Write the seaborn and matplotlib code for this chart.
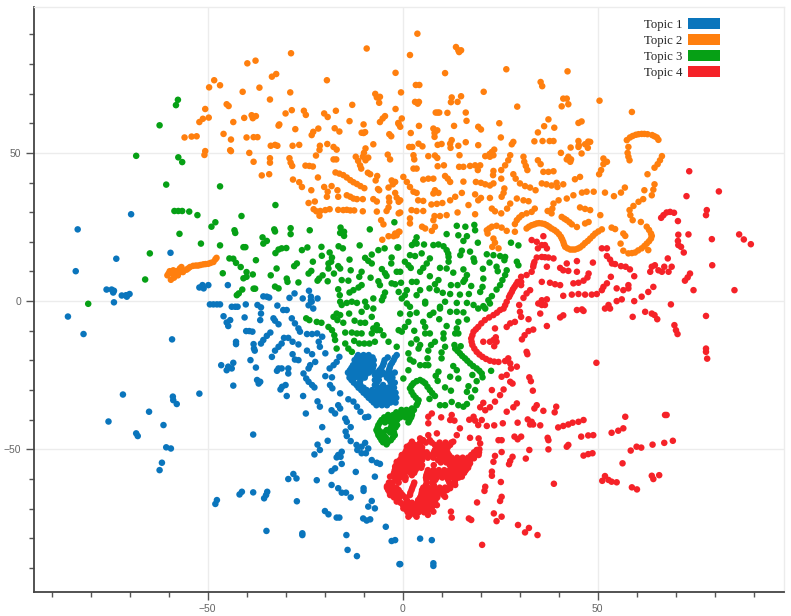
import pandas as pd
import matplotlib
matplotlib.use("Agg")
import matplotlib.pyplot as plt
from matplotlib.patches import Patch
from matplotlib.ticker import MultipleLocator
import seaborn as sns

topic_names = ["Topic 1", "Topic 2", "Topic 3", "Topic 4"]
topic_colors = ["#0A75BC", "#FF7F0E", "#06A015", "#F52228"]

# values
topic1_points = [
    (-83.3,24.2),(-69.6,29.3),(-83.8,10.1),(-73.4,14.3),(-59.5,16.3),(-75.9,3.9),(-74.6,3.9),(-74,3.5),(-74.2,2.9),
    (-72,1.9),(-70.9,2),(-70,2.4),(-70.7,1.5),(-74,-0.4),(-52.1,4.6),(-51.3,5.4),(-51,4.3),(-49.8,5.4),(-44.8,5.4),
    (-35.7,1.6),(-34.8,1.5),(-34.2,1.2),(-29,1.1),(-27.7,2.6),(-24,3.5),(-25.6,0.9),(-23.5,1.5),(-23.5,0.3),(-21.8,0.9),
    (-49.4,-1.1),(-48.5,-1.1),(-47.6,-1.1),(-46.8,-1.1),(-43.8,-1.9),(-42.9,-1.9),(-42.3,-1.9),(-40.2,-1.1),
    (-37.2,-1.3),(-36.3,-2.1),(-36.3,-4.2),(-36.5,-6.4),(-32.1,-1.5),(-30.6,-3),(-29.7,-3),(-24.1,-1.4),(-23.3,-0.2),(-22.9,-2.5),
    (-85.8,-5.2),(-81.8,-11.1),(-59.1,-12.9),(-45.9,-5.1),(-44.2,-6.4),(-45.1,-7.2),(-44.7,-8.4),(-40.5,-5.5),
    (-33.1,-5.8),(-32.7,-6.6),(-31.8,-7.8),(-28.4,-5.8),(-27.6,-7.5),(-26.7,-9.2),(-26.3,-10.3),(-40.1,-10.1),(-39.3,-10.1),(-38.5,-10.3),
    (-33.9,-10.6),(-34.8,-11.7),(-35.7,-13.1),(-36.3,-14.3),(-42.7,-13.7),(-42.7,-14.5),(-38.2,-14.5),(-38.1,-16),(-37.9,-16.7),
    (-30.4,-12.4),(-29.3,-12.4),(-31,-14.3),(-31.8,-15.4),(-28.2,-13.7),(-26.7,-14.6),(-24.5,-11.1),(-23.2,-11.1),(-21.9,-10.9),
    (-20.6,-12),(-21.5,-13.7),(-21.2,-15.4),(-32.7,-16.7),(-33.5,-18.8),(-28.2,-17.9),(-24.5,-16.7),(-23.2,-17.9),(-19.8,-17.6),
    (-27.6,-19.7),(-26.7,-19.9),(-39,-19.9),(-22.4,-20.5),(-23.7,-21.6),(-24.1,-22.7),(-46.5,-21.6),(-43.4,-20.8),(-44.7,-22.1),
    (-45.1,-23.3),(-43.8,-22.7),(-37.6,-22.4),(-31.8,-22.7),(-31,-22.7),(-32.2,-23.5),(-29.3,-22.7),(-29.3,-24.4),
    (-16.2,-18.8),(-16.9,-20.5),(-17.7,-21.6),(-18.7,-22.7),(-19.8,-25.3),(-25.4,-24.4),(-24.7,-26.1),(-24.1,-27.2),(-23.2,-28.3),(-22.6,-29.1),
    (-37.3,-26.6),(-36.5,-27.2),(-36.9,-27.8),(-43.4,-28.5),(-30.9,-28.9),(-30,-28.3),(-31.3,-29.8),(-29.7,-32),
    (-18.1,-25.7),(-18.6,-28.3),(-18,-29.4),(-71.7,-31.5),(-52.1,-31.2),(-58.9,-32.2),(-58.8,-33.4),(-57.9,-34.7),(-25.5,-32),
    (-16,-31.1),(-13.9,-33.1),(-12.6,-33.9),(-11.7,-35.6),(-10.8,-37.3),(-9.6,-39.2),(-8.8,-39),(-21.8,-33.8),(-21.2,-35.6),(-65,-37.3),
    (-16.5,-35.1),(-18.2,-36.8),(-17.3,-37.9),(-16,-36.2),(-24.8,-37.9),(-75.4,-40.6),(-61.3,-41.8),(-14.7,-39.6),(-14.3,-40.7),
    (-20.6,-42.5),(-13.3,-42.5),(-68.3,-44.6),(-67.9,-45.5),(-14.6,-44),(-14.3,-45.5),(-13.3,-47.2),(-38.3,-45),(-19.2,-47.1),(-21.8,-48.4),
    (-60.6,-49.3),(-59.4,-49.7),(-11.8,-48.5),(-11.6,-50.2),(-10.5,-49.1),(-9.6,-47.8),(-8.8,-49.7),(-9.4,-51.3),(-10.5,-51.3),
    (-21.2,-50.2),(-22.6,-51.7),(-15.6,-50.8),(-16.5,-51.9),(-16.9,-52.7),(-15.9,-52.5),(-61.7,-54.5),(-62.3,-57),(-7.9,-53.6),(-6.6,-54.5),(-5.8,-54.9),
    (-15.6,-54.9),(-17.3,-56.4),(-18.2,-57.3),(-12,-57.6),(-7.1,-59.2),(-28,-58.3),(-29.3,-60),(-27.2,-59.8),(-22,-60.4),(-18.2,-62),
    (-10,-63.1),(-10,-64),(-16.5,-63.1),(-15.6,-64.6),(-14.5,-64.6),(-13.3,-66.2),(-41.2,-64.3),(-41.8,-65.2),(-38.3,-64.5),
    (-34.7,-64.3),(-35,-65.4),(-35.5,-66.5),(-47.6,-67.1),(-48,-68.4),(-27.1,-67.5),(-7.9,-67.4),(-8.8,-69.3),(-7.1,-69.9),
    (-19.9,-70.8),(-19,-71.9),(-16.9,-73),(-16.2,-73),(-10.1,-73.3),(-9.2,-74),(-8.3,-73.6),(-4.3,-76.1),(-34.9,-77.5),(-25.7,-78.3),(-25.7,-78.9),
    (-14.4,-78.9),(-2.8,-80.9),(-1.9,-80.6),(-14.1,-83.9),(-11.7,-86),(-0.8,-88.7),(4.5,-80.1),(7.5,-80.6),(-0.6,-88.7),(7.9,-88.4),(7.9,-89.3),
]
# the dense patch, row by row: (y, xs)
topic1_blob = [
    (-18.2,[-11.4,-10,-8.7,-1.5]),
    (-19,[-11.7,-10.3,-9,-7.7,-3.8,-2]),
    (-19.9,[-12.3,-10.9,-9.5,-8.1,-7.4,-4.6,-2.3]),
    (-20.8,[-12,-10.6,-9.2,-7.8,-4.8,-2.7]),
    (-21.6,[-12.7,-11.3,-9.9,-8.5,-7.4,-5,-3.1]),
    (-22.5,[-13.1,-11.7,-10.3,-8.9,-7.6,-5.4,-3.3]),
    (-23.3,[-13.5,-12.1,-10.7,-9.3,-7.8,-5.9,-3.5]),
    (-24.1,[-14,-12.8,-11.4,-10,-8.6,-6.5,-5,-3.3,-2]),
    (-24.9,[-13.5,-12.1,-10.7,-9.5,-7.1,-5.7,-4.3,-3.1]),
    (-25.8,[-13.6,-12.3,-11,-9.7,-6.6,-4,-2.6]),
    (-26.6,[-13.1,-10.8,-7.1,-6.1,-3.3]),
    (-27.5,[-12.5,-11,-6.6,-3,-2]),
    (-28.3,[-11.8,-10.8,-7.1,-5,-2.7]),
    (-29.2,[-11.3,-10,-6.3,-5,-3.7,-2.2]),
    (-30,[-10.6,-9.2,-7.8,-6.4,-5,-3.6,-2.7]),
    (-30.9,[-10,-8.6,-7.2,-5.8,-4.4,-3,-1.8]),
    (-31.7,[-9.3,-7.9,-6.5,-5.1,-3.7,-2.3]),
    (-32.6,[-8.7,-7.3,-5.9,-4.5,-3,-1.6]),
    (-33.4,[-8,-6.6,-5.2,-3.8,-2.3]),
    (-34.2,[-7.4,-6,-4.6,-3.1,-1.8]),
    (-35.1,[-6.7,-5.3,-4]),
]

topic2_points = [
    (-9.2,85.2),(-28.6,83.6),(-39.8,80.2),(-37.7,81.1),(-1.8,77),(-33.5,75.7),(-32.4,76.6),(-19.4,74.5),(-48.3,74.5),(-49.6,72.1),(-46.8,72.8),
    (-41,70.6),(-36.7,72),(-28.8,70.4),(-34,68),(-7,69.9),(-6.6,68.7),(-5.8,68.9),(-6,66.9),(-45.1,66.4),(-44.6,65.8),(-50.6,64.8),(-12.9,66.2),
    (-28.4,64.4),(-30,63.3),(-25.3,64.2),(-24.8,62.8),(-20.1,63.3),(-19.2,62.1),(-17.1,64.2),(-1.8,64.8),(-49.7,61.9),(-51.2,61.5),(-52.1,60.4),
    (-43.4,60.4),(-40.6,61.8),(-38.7,62.7),(-37.6,62.4),(-38.4,61.7),(-13.6,60.7),(-5.8,60.4),(-5.1,61.6),(-4.5,62.4),(-31.6,59.6),(-31.8,59.2),
    (-10,59.6),(-1,59.7),(-27.5,58),(-21.6,58.2),(-22.9,57.1),(-23.3,56),(-17.4,58.3),(-16.2,57.2),(-10.5,56.8),(-10,56.7),(-9.6,57),(-45.9,56.4),
    (-55.9,55.2),(-54.1,55.5),(-52.8,55.6),(-44,54.5),(-40,55.2),(-38.2,55.3),(-37.2,55.3),(-3.4,56.3),(-2.9,55.6),(-33.8,52.4),(-32.7,52.7),(-32.1,52.4),
    (-28.2,52.4),(-26.5,52.7),(-19.3,53),(-21.2,52.4),(-21.3,51),(-17.7,52),(-16.9,51.1),(-7.5,52.9),(-9.5,51.5),(-9.9,50),(-10.2,48.7),(-9.5,47.5),(-8.8,48.4),
    (-44.2,50.9),(-44,50.6),(-50.6,50.6),(-50.8,49.3),(-39.3,50),(-22.2,49.1),(-3.8,49.4),(-3.2,47.8),(-17.7,47.8),(-17,47.8),(-12,48.7),(-11.4,47.3),(-10.9,45.8),(-10.6,44.7),
    (-29,48.2),(-28.7,46.7),(-28.3,45.6),(-34,48.2),(-34,46.7),(-38.2,47),(-24.9,45.7),(-23.9,45.6),(-23,45.4),
    (-17.2,43.4),(-16.2,43),(-15.2,42.5),(-14.3,41.7),(-13.4,40.8),(-12.6,40.1),(-11.7,39.5),(-10.8,38.8),(-9.8,38.1),(-8.9,43.3),(-8.3,42.8),(-6.5,42.2),(-6.9,40.7),
    (-36.1,42.4),(-34.2,42.8),(-21.7,41.7),(-28.1,41),(-26.5,40.1),(-25.8,38.5),(-2.8,40.7),(-1.9,40.2),(-3.6,38.3),(-2.5,39.4),(-6.3,37.8),(-6,37.4),(-20.1,38.5),(-18.2,38.8),
    (-23.4,37.4),(-16.7,37.4),(-19.2,36.9),(-19.4,35.2),(-14.3,35.7),(-13.4,35.2),(-12.6,34.6),(-11.7,34.4),(-16.5,35.2),(-10.2,34.4),(-7.5,34.4),(-6.6,33.6),(-1.9,36.5),
    (-3.5,34.9),(-3.4,33.5),(-24.1,33.1),(-22.5,33.6),(-22.8,31),(-22.1,30.3),(-21.1,30.4),(-19.8,30.7),(-18.7,31),(-21.3,28.8),(-16.5,30.8),(-15.2,30.7),(-14.3,30.8),(-13.4,30.6),(-12.4,30.6),
    (-10.2,30.3),(-6.6,30.2),(-4.1,30.4),(-3.6,31.6),(-1,33.5),(-1,29.6),(-5.5,27.3),(-4.9,25.9),(-5.2,20.7),(-3.6,21.9),(-2.3,21.9),(-1.5,22.2),(-0.8,23.4),
    # tail on the left
    (-47.7,14.6),(-48,14.1),(-48.5,13.2),(-49.2,12.9),(-49.8,12.6),(-50.5,12.5),(-51.1,12.4),(-51.8,12.2),(-52.4,12),(-53,12),(-53.7,11.9),(-54.5,11.5),(-55,11),(-55.4,10.6),
    (-56.3,9.8),(-57.1,11),(-56.7,11.5),(-58,10.1),(-57.6,8.7),(-58.8,10.4),(-59.7,10.1),(-60.3,8.7),(-59.4,7.2),(-58.4,8.7),(-59,9.3),(-57.1,9.8),(-58.6,7.9),(-60,9.3),(-57,10.3),
    # right half
    (3.8,90.2),(1.9,83),(13.7,85.7),(14.3,84.6),(15,84.6),(14.5,84),(26.6,78.2),(10.9,76.9),(42.3,77.5),(35.4,73.9),(35.8,72.5),(3.4,72.9),(4.3,72.9),(-0.4,70.4),(20.8,70.6),
    (15,69.1),(12.6,68.7),(14.1,67.2),(12.4,67.1),(41.2,68.3),(42.1,68.3),(42.5,66.4),(40.8,65.7),(50.5,67.6),(3.2,67.2),(3.9,66.6),(4.2,67.2),(29.4,65.6),(58.8,63.8),
    (8.5,63.6),(9,63.6),(9.4,63.6),(11.5,63.5),(16.2,63.6),(-0.2,61.6),(-1.1,60.1),(-0.6,58.8),(16.4,60.8),(37.4,61.3),(45.1,60.1),(45.9,60.6),(24.8,60),(4.2,59.1),(13.2,59.1),
    (36.3,59),(38.9,58.5),(19.4,58.8),(20.1,57.9),(7.9,58.2),(8.9,57.6),(8.2,56.7),(8.2,55.4),(34.7,56.9),(2.1,56.7),
    (57.5,54.3),(58.3,55.2),(59,55.7),(59.8,56.1),(60.5,56.3),(61.3,56.4),(62,56.4),(62.8,56.3),(64,56),(64.6,55.6),(65.2,55.2),(65.6,54.4),
    (25.2,55.2),(33.8,53.9),(35.9,54),(37.7,54),(38.7,54),(28.4,53.7),(28,52.9),(12.6,54.3),(12.2,53.1),(16.2,53.6),(4.1,53.1),(5.1,52.2),(45.1,54),(45.2,52.6),(45.1,52),
    (47.6,53.8),(46.8,52.9),(47.5,51.7),(48.1,53.7),(1.7,52),(2.5,52),(9,52.7),(10,53),(12.3,51.7),(14.3,52.4),(19.4,52.6),(43.1,51.8),(57.9,52),(57.7,50),(57.9,48.7),(58.2,47.5),
    (23.5,51.1),(22.9,50.3),(22.3,49.6),(21.2,48.9),(23.3,49.2),(22.4,48.7),(45.9,49.8),(40.6,50),(42.5,48.7),(42.1,47.8),(43,47),(43.2,47.8),(6.6,48.9),(8.3,49.1),(8.9,48.3),(14.6,49.2),
    (27.6,49.2),(27.1,47.5),(26.3,45.8),(25.3,44.2),(31,48.7),(31.2,47),(31.6,45.6),(32,44.2),(34.7,47.5),(35.4,46.2),(2.8,49.2),(3,47.8),(51.5,48.1),(52.4,47),(51.5,46.2),(50.4,42.8),(50.9,44.2),
    (66.5,48.9),(66,47.5),(65.4,46.2),(64.6,45),(2.8,44.7),(3.6,44.7),(9,45.5),(10.6,45.8),(14.5,45.3),(15.6,45.3),(17.3,45.6),(18.6,45.8),(19.9,45.8),(19.3,44.2),(23.3,43.9),(23.2,42.5),
    (36.1,43.6),(37.4,43.6),(38.7,43.8),(62.8,42.8),(0.2,41.9),(1.1,40.2),(1.9,38.5),(2.8,36.9),(3.6,36.5),(5.3,41),(6.6,41.3),(7.9,41.3),(10.9,42.2),(11.6,41.3),(12.2,40.2),(15.6,40.3),
    (18.8,40.2),(20.1,39.9),(21.2,39.4),(22.4,39),(23.3,39.7),(25.3,41.3),(28.4,42.8),(29,41.3),(30.1,39.7),(31.4,38.8),(32.7,38.3),(34.1,37.4),(35.7,39.7),(36.9,39.4),(38.2,39),(39.5,39.9),(39.7,38.5),(41.2,39.4),
    (44.2,41.1),(45.5,41.9),(64.6,39.4),(64.3,37.6),(63.9,35.7),(62,37.4),(57,38.3),(56,36.6),(54.2,35.4),(51.9,36.6),(46,36.6),(47.2,36.9),(49,36.9),(43.8,35.7),(42.1,34.6),(40,34),(38.7,32.9),(38.4,31.2),(38.2,29.6),(37.2,30.4),
    (8.3,37.4),(7.9,36.3),(9.2,36.5),(15.2,36.5),(13.5,35.2),(12.2,34),(18.6,36),(20.1,34.8),(19.4,34),(22.4,34.8),(26.1,38),(25.9,36.5),(25.4,35.2),(29.3,34.6),(31,34),(32.3,33.7),(-1.5,34.9),(-0.6,34),
    (4,34),(5.3,33.8),(7.4,32.6),(8.8,32.8),(10.2,33.1),(16.9,32.4),(27.6,32.9),(26.8,31.2),(22.9,31.2),(23.7,30.3),(25.3,29.6),(18.6,29.3),(14.1,29.9),(-0.6,29.9),(2.3,30.7),(3.6,30.4),(5.3,30.4),
    (33.9,31.2),(33.1,30.1),(31.8,29.6),(30.6,29),(29.9,28.2),(29.3,27.3),(28.8,26),(45.5,31.6),(46.8,31.1),(48.1,30.7),(50.7,29),(61.7,34.4),(60.5,33.5),(59.2,32.1),(58.2,30.7),(58.4,29),(59,27.3),(61.1,26.7),
    (62.6,25.1),(63.2,24),(63.7,22.8),(63.9,22),(63.7,21.1),(63.2,20.2),(62.6,19.4),(62,18.6),(61.3,17.8),(60.4,17.1),(59.6,16.4),(58.8,16.2),(57.9,16.1),(56.6,17),(55.9,19.4),(63,17.2),(56.6,22.8),(57.1,22),(53.6,24.8),(54.5,24.3),
    # long curve
    (31.8,24.5),(32.4,25.1),(33.1,25.6),(33.8,25.9),(34.4,26.2),(35,26.3),(35.7,26.2),(36.4,26),(37,25.6),(37.6,25.1),(38.2,24.5),(38.9,24),(39.5,23.4),(40.1,22.6),(40.6,21.7),(40.9,20.9),(41.2,20),(41.4,19.1),(41.7,18.3),
    (42.3,17.8),(43,17.4),(43.6,17.4),(44.2,17.4),(44.9,17.7),(45.5,18.1),(46.2,18.8),(46.8,19.6),(47.5,20.3),(48.1,21.1),(48.8,22),(49.4,22.8),(50.2,23.5),(51.1,24.2),
    (40.8,28.4),(41.5,27.8),(42.1,27.3),(42.8,26.6),(43.4,25.9),(44.7,25),(46.8,26.2),(47.7,26.7),(8.2,28.7),(7.9,27.3),(9.6,28.7),(11.3,29),(8.3,25.1),(7.5,23.7),(5.8,24.5),(5,25.1),(1.9,27.9),(1.9,26.2),(-1.9,22.8),(-1,23.4),
    (21.6,23.9),(22.2,24.5),(22.9,25.1),(24.1,25.4),(25.4,24.8),(26.7,23.7),(28.8,23.4),(21.8,22.8),(23.3,21.1),(23.7,19.7),(24.6,17.8),(23,18.3),
]

topic3_points = [
    (-57.6,67.9),(-58.1,66.1),(-62.3,59.3),(-68.3,49),(-57.5,48.5),(-56.5,46.9),(-60.6,39.3),(-46.8,38.7),(-32.6,32.4),(-58.5,30.4),(-57.5,30.4),(-56.5,30.4),(-54.7,30.2),(-52.6,29),(-41.3,28.7),
    (-48,26.6),(-49,25.1),(-43.1,23.9),(-42.9,23),(-57.2,22.7),(-32.9,24.2),(-32.7,23.5),(-28.7,24.6),(-28.7,22.6),(-23.8,23.9),(-15.9,24.8),(-16,23),(-15,23.4),(-15,22),(-8.4,24.2),(-2.1,26.6),
    (-35.9,21.5),(-34.8,20.3),(-35.7,19.4),(-51.7,19.4),(-46.8,18.8),(-40.8,18.2),(-40.3,18.2),(-31,17.8),(-29.8,17.9),(-31.8,17.4),(-32.6,16.2),(-24.4,18.1),(-25.8,17.2),(-20.8,18.3),(-16.4,18.5),(-15.3,17.8),(-11,18.8),
    (-4.6,17.8),(-6.2,17.2),(-1.3,18.1),(-64.8,16.1),(-44.4,14.4),(-43.4,14.3),(-42.7,12.9),(-37.6,13.8),(-20.7,15.3),(-18.7,16.4),(-18.1,14.7),(-13.6,14),(-7.9,15.7),(-9.6,14.6),(-8.8,13.6),(-7.9,12.7),
    (-2.8,14.7),(-2.9,12.7),(-23,13.3),(-27.1,12.7),(-27.8,11.8),(-19,12.7),(-18.3,13.3),(-19,11),(-16.5,11.8),(-16,11),(-41.5,11.5),(-40,9.8),(-32.3,11),(-13.3,10.4),(-5.3,10.8),(-4.5,9.4),(-4.1,8.5),
    (-24.1,9.3),(-23.4,10.2),(-46.1,9.4),(-38.4,9),(-33.8,8.7),(-17.6,9.3),(-1.5,9.9),(-20.5,8.7),(-21.4,7.6),(-21.8,6.9),(-40.8,7.7),(-40,8.2),(-29.7,7.6),(-29.5,6.5),(-10.5,9.9),(-11.1,8.2),(-8.2,7.9),(-66,7.3),
    (-19.2,6.7),(-15.6,7.1),(-13.9,6.9),(-6.2,6.7),(-5.8,5.4),(-26.7,6.3),(-2.8,6),(-1.9,5.7),(-32.7,4.9),(-31.8,4.3),(-10.5,5.4),(-11.3,4.6),(-12.6,3.7),(-13.6,2.9),(-38.2,4.2),(-37.8,4.2),(-41.1,3.9),(-42,2.6),(-42.5,2),
    (-16.5,4),(-16.1,2),(-4.5,2.9),(-4.9,1.5),(-5.3,0.3),(-1,3.1),(-7.5,0.9),(-80.6,-0.9),(-16,-0.2),(-15.6,-1.3),(-14.3,-0.6),(-13,-0.2),(-11.7,-0.6),(-9.6,-0.2),
    (-24.7,-5.8),(-23.9,-6.4),(-16.9,-4.2),(-17.7,-5.3),(-16.7,-6.4),(-16,-4.7),(-15.2,-7.3),(-13.7,-4.2),(-12.3,-6.6),(-10.8,-7.3),(-9.6,-7.3),(-7.9,-5.3),(-9.2,-1.9),(-10.5,-3.6),(-7.5,-2.5),(-22,-7),(-20.8,-7.3),
    (-19,-8.7),(-18.1,-9.8),(-17.5,-11.5),(-14.7,-10.6),(-13,-10.6),(-11.7,-10.9),(-10.5,-10.9),(-6.6,-8.1),(-7.5,-9.2),(-7.9,-10.9),(-6.6,-9.8),(-5.8,-9.8),(-4.9,-11.5),(-3.6,-13.7),
    (-12.4,-13.4),(-11.1,-14.3),(-9.8,-14.3),(-8.5,-14.3),(-7.1,-13.7),(-17.3,-13.1),(-16.9,-16),(-14.7,-14.3),(-13.9,-16),(-13,-17.1),(-1,-9.8),(-1.5,-15.4),
    # right half
    (13.9,25.4),(16.1,25.1),(18.4,25.7),(18.6,23.9),(11.3,22.6),(14.3,22.2),(16.5,21.9),(15.6,20.3),(19.3,19.7),(3.6,21.5),(3.2,20),(2.4,18.9),(3.6,19.4),(5.5,19.1),(-1.1,18.1),(27.8,19.7),(29.7,18.8),
    (7.9,18.9),(9.2,19.1),(10.5,18.5),(11.3,17.2),(11.7,16),(11.8,14.9),(11.8,13.3),(15.2,17),(14.8,15.5),(17.3,16.7),(18.2,14.4),(18.4,13.3),(21.6,15.8),(23.3,15.5),(25,15.2),(26.3,14.9),(26.1,13.8),(1.9,15.5),(3.2,15.2),(4.9,16.1),
    (29.3,13.3),(29.7,12.1),(7,14.4),(6.2,12.7),(5.3,11.2),(4.5,9.9),(0.6,13.3),(1.5,12.1),(2.1,11.2),(22.3,13),(9.6,11.2),(11.3,11),(15.6,10.7),(16.5,8.8),(16,7.3),(15.6,6.5),(20.6,10.9),(24.1,11.6),(24.4,10.1),(13,9.6),
    (26.7,10.4),(26.3,8.8),(25.6,7.1),(25,5.4),(24.1,3.9),(-0.6,9.9),(7,8.4),(20.7,7.6),(9.2,7.1),(8.3,5.7),(2.4,6.5),(3.6,6.5),(-0.4,6.2),(12.4,5.4),(14.1,5.4),(17.6,5.1),(20.5,4.8),(4.5,3.7),(3.6,2),(6.9,4.3),(8.8,3.7),
    (1.1,3.7),(0.6,2),(10.3,2.8),(12.2,2.4),(14.7,2.2),(17,2.4),(19.9,3.1),(22.9,1.7),(22,0.3),(20.7,-1.7),(-0.2,0.9),(1.1,-0.8),(1.9,-1.9),(5.8,-0.2),(5.8,-0.8),(10.9,-0.2),(9.6,-1.9),(13.9,-0.6),(16.5,-0.6),(18.2,-1.3),
    (-0.6,-4.2),(1.9,-4.4),(3.6,-3.9),(7,-4.7),(7.9,-3.9),(9.6,-2.5),(12.2,-3.6),(13.9,-3.6),(15.6,-3.8),(16.5,-6.2),(21.2,-2.5),(19.4,-2.5),(22.4,-0.8),(1.5,-7),(0.6,-8.7),(-0.2,-10.3),(5.3,-7),(5.8,-8.7),(5.8,-10.9),(7,-10.9),
    (9.4,-6.1),(11.3,-8.4),(14.3,-7),(13.9,-9.2),(13.5,-10.9),(14.3,-10.9),(3,-10),(10.5,-10.9),(10.5,-12.6),(3.6,-12.9),(2.2,-14.3),(8.3,-13.7),(7.3,-14.8),(6.6,-16.7),(6.4,-19.3),(13.3,-14.8),(14.9,-15.2),(4.5,-14.8),(4.1,-16),
    (10.9,-15.4),(10,-17.3),(10,-19.3),(1.5,-17.6),(1.9,-19.7),(2.8,-20.4),(4.5,-21.6),(5.8,-21.6),(6.6,-21.6),
    (13.5,-16),(14.1,-16.8),(14.7,-17.6),(15.3,-18.5),(16,-19.3),(16.6,-20.1),(17.3,-21),(18.1,-21.9),(19,-22.7),(19.7,-23.5),(20.3,-24.4),(20.5,-25.7),(19,-27),(22.7,-23.5),(13,-21.9),(13.9,-23.3),(9.2,-23.8),(8.5,-25.2),(9,-26.9),
    (1.5,-23.3),(0.2,-26.1),(12.2,-25.5),(14.3,-26.1),(17.9,-24.9),(10.9,-29.1),(12.4,-30.2),(18.6,-30),(16.9,-28.7),(16.5,-30.6),(17.6,-32.5),
    (8.3,-32),(7.6,-31),(7,-30),(6.4,-28.9),(5.8,-27.7),(5.2,-27.1),(4.5,-26.6),(3.6,-27),(2.8,-27.7),(2.3,-28.5),(1.9,-29.4),(2.3,-30.6),(2.8,-31.7),(3.4,-32.6),(4.1,-33.4),(3.9,-34.3),(3.6,-35.1),(2.4,-36.2),(6.9,-33),
    (9.6,-35.1),(10.9,-35.1),(12.6,-34),(14.3,-35.1),(15.6,-35.6),(16.5,-34.7),
]
topic3_blob = [
    (-36.7,[-0.3,1,2.2,2.9]),
    (-37.5,[-1.6,-0.3,1,2.4]),
    (-38.4,[-3.7,-2.4,-1,0.4,1.8,2.4]),
    (-39.2,[-4.7,-3.3,-1.9,-0.6,0.8,2.2]),
    (-40.1,[-5.4,-4,-2.6,-1.4,1.8]),
    (-40.9,[-5.8,-4.5,-3,-1.8,1.5]),
    (-41.8,[-6.2,-2.4,-1.4]),
    (-42.6,[-6.4,-3,-1.8]),
    (-43.5,[-6.7,-6.1,-4.1,-2.4]),
    (-44.3,[-6.4,-5,-3.2,-2.2]),
    (-45.2,[-6.2,-4.8,-2]),
    (-46,[-5.8,-4.3,-2.5]),
    (-46.9,[-5.4,-3]),
    (-47.6,[-5,-3.8]),
    (-48.3,[-4.1]),
]

topic4_points = [
    (73.5,43.8),(81.1,37),(72.8,35.4),(78,30.7),(77.8,29),(67.7,29.9),(66.9,29),(66.3,28.1),(68.6,30.1),(69.6,29.8),(70.6,27),(70.7,22.4),(73.3,22.5),(86.3,22.5),(87.5,20.8),(89.3,19.2),(79.3,20.9),
    (70.6,20.3),(70.7,18.9),(71.4,18.3),(72.1,16.4),(33.1,20.6),(34.4,20),(36.1,21.9),(34.7,17.8),(35.7,18.9),(36.5,18.9),(37,17.8),(51.1,17.8),(52.4,17.8),(52.4,15.2),(53.2,14),(53.7,12.7),(54.5,12.5),(56,11.8),(57.2,11.6),(58.3,10.7),
    # long boundary curve
    (38.7,14.4),(37.4,14.7),(36.5,14.8),(35.7,14.9),(34.4,14.7),(33.8,13.2),(33.6,12.4),(33.5,11.6),(33.1,9.9),(31.8,8.8),(30.4,8.2),(29.5,6.5),(29.1,5.6),(28.7,4.8),(28.3,4),(28,3.1),(27.6,2.2),(27.3,1.4),(26.7,-0.2),(26.3,-1.4),(25.9,-2.5),
    (25,-3),(24.2,-3.9),(23.3,-4.7),(22.2,-5.5),(21.1,-6.4),(20.2,-7.5),(19.4,-8.7),(18.8,-9.5),(18.2,-10.3),(17.9,-11.5),(17.6,-12.6),(17.7,-13.7),(17.9,-14.8),(18.4,-16),(19,-17.1),(19.7,-18),(20.5,-18.8),(21.4,-19.5),(22.4,-20.1),(23.5,-20.4),(24.6,-20.5),
    (37,11.6),(44.7,13.5),(42.1,12.7),(40.4,11.2),(41.2,10.4),(42.5,10.2),(48.8,13),(63.9,11.6),(64.7,12.1),(65.6,10.4),(67.1,11.6),(69,11.6),(68,14.4),(63.5,9.9),(66.5,9.9),(68.2,9.9),(79.4,12.1),(73.7,9.3),(73.1,8),(72.4,6.9),
    (44.7,9.9),(47.7,9.3),(47.4,8),(46.4,6.9),(45.1,6.2),(43.8,6),(59.4,8.4),(53.4,8.2),(35.7,6.5),(37.8,6.2),(39.1,5.7),(40.4,5.4),(30.4,6.5),(30.4,5.4),(52.4,6),(51.5,4.8),(51.1,3.7),(54.9,4.3),(56.6,3.7),(57.9,5.4),(57.9,4.3),
    (64.3,4.8),(63,3.1),(61.3,1.5),(74.6,3.7),(85.1,3.7),(32.7,3.7),(31.8,2.6),(31,1.1),(41.2,1.8),(43.4,2.2),(45.1,2.4),(46.8,2.2),(48.5,2.2),(49.8,2.4),(56.2,0.6),(54.9,0),(59.4,0),(68.8,-1.1),(52.8,-1.3),(51.9,-2.5),
    (29.9,-1.3),(30.1,-3.6),(30.4,-5.3),(34.8,-0.8),(35.7,0.3),(37,0.6),(35.7,-1.3),(36.5,-1.3),(35.3,-4.2),(32.3,-6.1),(40.4,-5.5),(41.2,-4.8),(44.7,-3),(46,-2.8),(46.4,-3.3),(53.2,-2.5),(59,-5.3),(62.2,-3.6),(63.9,-4.2),(64.6,-4.7),(65.3,-6.1),
    (77.8,-5),(69.7,-8.1),(70.1,-9.8),(70.5,-11.1),(28.8,-7),(27.6,-7.5),(26.7,-8.7),(37,-8.4),(33.5,-9.6),(32.3,-10.1),(31.3,-11.5),(30.6,-12.9),(23.7,-9.2),(23.9,-12.2),(20.7,-13.7),(22.4,-13.7),(23.3,-13.1),(24.1,-13.7),(23.5,-15.2),
    (77.8,-16),(77.8,-17.1),(78.1,-19.4),(31.8,-17.1),(32,-17.9),(49.7,-20.8),(27.1,-19.3),(26.3,-20.2),(27.6,-21),(27.8,-22.7),(29.3,-22.1),(25.4,-25.5),(26.7,-24.9),(27.6,-27.2),(28.2,-27.8),(32.5,-25.7),(32.9,-27),
    (22.9,-30),(25.9,-29.8),(25,-31.7),(33.4,-30.2),(20.7,-34.3),(19.9,-35.8),(21.2,-36.8),(22.4,-35.8),(23.7,-33.9),(29.3,-34.5),(28.4,-35.8),(26.7,-37.3),(34.4,-35.1),(33.8,-36.2),(36.1,-37),(39.4,-35.6),(39,-37.5),(57.1,-39),(67.3,-38.4),(67.7,-38.4),
    (6.6,-39),(7.5,-37.9),(6.6,-41.2),(9.9,-39.2),(12.6,-38.4),(12.2,-40.1),(13.3,-40.3),(18.2,-39),(17.1,-40),(18.6,-40.3),(20.3,-40.1),(19.4,-41.8),(21.6,-42.1),(23.5,-41.9),(25.7,-41.2),(29.5,-41),(32.1,-39.9),(33.1,-40.7),(32.7,-41.6),(33.5,-41.6),
    (35.3,-41.9),(39.9,-42.6),(41.2,-42.1),(42.5,-41.6),(43.6,-41),(45.1,-40.7),(46.4,-40.1),(56.6,-42.9),(55.3,-43.7),(53.6,-44.4),(14.7,-42.9),(13.9,-45.2),(13,-47.4),(45.8,-45.7),(47.6,-45.3),(48.9,-45.2),(17.3,-46.1),(24.6,-46.9),(25.4,-46.9),
    (28.7,-45.7),(29.5,-46.6),(30.4,-45.7),(37.2,-46.1),(37.4,-46.9),(69.3,-47.1),(67.1,-47.8),(64.1,-48.4),(60,-49.1),(61.2,-49.4),(58.5,-50.4),(37.4,-50),(32.5,-50.2),(42.5,-48.5),(42.1,-49.1),(25.4,-50.9),(23.7,-52.2),(23.3,-54.2),
    (46.4,-52.1),(47.6,-51.6),(48.7,-51.3),(31.6,-53.1),(28.2,-52.5),(27.6,-53.9),(27.3,-55),(56.4,-54.7),(22.9,-57.5),(22.9,-58.9),(63.9,-58.9),(65.8,-58.7),(64.3,-60),(51.9,-59),(51.2,-60.6),(52.8,-60.3),(53.6,-60.9),(54.9,-61.1),
    (25.2,-61),(38.8,-61.6),(58.8,-62.8),(60.1,-63.5),(21.2,-62.6),(21,-64),(25.4,-66),(25,-67.4),(19.1,-67.9),(12.4,-71),(12.6,-73),(17,-73.3),(17.6,-73.8),(23.4,-71.6),(25.4,-72.7),(24.1,-74.2),(29.6,-75.5),(32.4,-76.5),(31.4,-78),(34.6,-78.9),(20.4,-82.2),
    # edge of the dense patch
    (8.8,-44.6),(6.6,-45.2),(4.5,-46.3),(2.4,-47.4),(1.1,-49.1),(-0.2,-51.9),(-1.5,-54.2),(-1.9,-55.8),(-3.2,-59.2),(-4,-62.4),(-3.2,-65.4),(-1.5,-67.6),(0.2,-69.9),(1.5,-72.7),(3.6,-72.7),(5.3,-70.4),(7.9,-71),(8.8,-68.8),(10.9,-66),(12.2,-63.1),
    (15.2,-59.2),(17.3,-54.7),(19,-51.3),(19.9,-48),(19.5,-46.3),(19.7,-50),(18.3,-53),(16.2,-57),
]
topic4_blob = [
    (-46.9,[5.3,7]),
    (-47.7,[4.5,6,7.5,9.5,11,12.5]),
    (-48.5,[1.9,3.2,4.5,8.3,9.6,10.9,12.2]),
    (-49.3,[2.5,3.9,5,8.9,10.3,11.6]),
    (-50.2,[1,2.3,3.6,5,8.3,9.6,11,19]),
    (-51,[0.7,2,3.4,4.8,6.2,8,9.2,10.5,11.5,18.3,19.6]),
    (-51.9,[0.1,1.4,2.8,4.1,5.5,6.8,8.2,9.5,10.9,11.9,17.6,19.5]),
    (-52.8,[-0.3,1,2.4,3.8,5.1,6.5,7.9,9.8,11.2,12.6,14,15.4,16.8,18.2]),
    (-53.6,[-0.7,0.7,2,3.4,5,9.1,10.5,11.9,13.2,14.6,16,17.3]),
    (-54.4,[-1.2,0.2,1.6,3,4.4,9.8,11.2,12.6,14,15.4,16.8]),
    (-55.3,[-1.6,-0.2,1.2,2.6,4,5,8,12.1,13.5,14.9,16.3,17]),
    (-56.2,[-1.8,-0.4,1,2.4,3.8,4.8,12.8,14.2,15.6,16.8]),
    (-57,[-2,-0.6,0.8,2.2,3.3,6.5,7.9,9.3,10.7,12.1,13.5,14.9,16.1]),
    (-57.9,[-2.2,-0.8,0.6,2,3,6.3,7.7,9.1,10.5,11.9,13.3,14.7,15.8]),
    (-58.7,[-2.4,-1,0.4,2.4,6.1,7.5,8.9,10.3,11.7,13.1,14.5,15.2]),
    (-59.5,[-2,-0.6,0.8,6,7.4,8.8,10.2,11.6,13,14.4]),
    (-60.3,[-1.6,0.7,6.1,8.4,11.7,13.5]),
    (-61.2,[-3.5,-2.5,-1,3,6.2,7.6,12,13.4]),
    (-62,[-3.3,-2.7,2.8,6,8,12.5,13.5]),
    (-62.9,[-4,-3,-1.6,2.5,5.3,6.7,8.1,9.5,10.9,12]),
    (-63.7,[-3.7,-2.2,-1,2.3,5,6.3,7.7,9,10.4,11.4]),
    (-64.6,[-3.3,-1.9,-0.5,2,4.9,6.3,7.7,9.1,10.5]),
    (-65.4,[-2.9,-1.5,0,1.9,4.8,6.2,7.6,9,10.5]),
    (-66.2,[-2.2,-0.8,0.7,4.5,6,7.4,8.9]),
    (-67.1,[-1.1,1.1,4,5.5,6.9,8.4]),
    (-68,[-0.5,0.9,2.4,3.8,5.2,6.6,8]),
    (-68.8,[0.1,1.5,2.9,4.3,5.7,7.1,8]),
    (-69.6,[0.5,1.9,3.3,4.7,6.1,7.5]),
    (-70.4,[1,2.4,3.8,5.2,6.7]),
    (-71.2,[1.3,2.7,4.1,5.5]),
    (-72.1,[1.9,3.3,6.5]),
]

x_major = [-50, 0, 50]
y_major = [-50, 0, 50]


def expand_rows(rows):
    return [(x, y) for y, xs in rows for x in xs]


# Build one long table for seaborn
topic1_all = topic1_points + expand_rows(topic1_blob)
topic3_all = topic3_points + expand_rows(topic3_blob)
topic4_all = topic4_points + expand_rows(topic4_blob)
frames = []
for name, pts in zip(topic_names, [topic1_all, topic2_points, topic3_all, topic4_all]):
    part = pd.DataFrame(pts, columns=["x", "y"])
    part["topic"] = name
    frames.append(part)
df = pd.concat(frames, ignore_index=True)

sns.set_style("white")
plt.rcParams["font.family"] = ["Liberation Sans", "DejaVu Sans"]

fig, ax = plt.subplots(figsize=(7.91, 6.16), dpi=100)
fig.subplots_adjust(left=34 / 791, right=784 / 791, bottom=1 - 592 / 616, top=1 - 7 / 616)

ax.grid(True, color="#ececec", linewidth=1.0)
ax.set_axisbelow(True)
sns.scatterplot(data=df, x="x", y="y", hue="topic", hue_order=topic_names, palette=topic_colors,
                s=22, linewidth=0, legend=False, ax=ax)

ax.set_xlim(-94.5, 97.8)
ax.set_ylim(-98.1, 99.2)
ax.set_xlabel("")
ax.set_ylabel("")
ax.set_xticks(x_major)
ax.set_yticks(y_major)
ax.xaxis.set_minor_locator(MultipleLocator(10))
ax.yaxis.set_minor_locator(MultipleLocator(10))
ax.tick_params(axis="both", which="major", length=6, width=1, color="#555555", labelsize=7.5, labelcolor="#666666", pad=3)
ax.tick_params(axis="both", which="minor", length=3.5, width=1, color="#555555")
ax.tick_params(bottom=True, left=True, which="both")

for side in ["left", "bottom"]:
    ax.spines[side].set_color("#444444")
    ax.spines[side].set_linewidth(1.3)
for side in ["top", "right"]:
    ax.spines[side].set_color("#ececec")
    ax.spines[side].set_linewidth(1.0)

handles = [Patch(facecolor=c, edgecolor="none", label=n) for n, c in zip(topic_names, topic_colors)]
ax.legend(handles=handles, loc="upper left", bbox_to_anchor=(610 / 750, 1 - 11 / 585), frameon=False, markerfirst=False,
          prop={"family": "Liberation Serif", "size": 9.2}, handlelength=2.5, handleheight=0.92,
          labelspacing=0.25, handletextpad=0.45, borderpad=0, borderaxespad=0)

plt.savefig("out.png", dpi=100)
